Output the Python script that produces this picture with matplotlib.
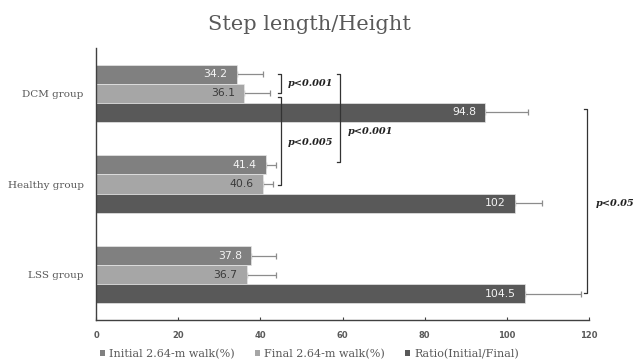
import numpy as np
import matplotlib.pyplot as plt
from matplotlib.patches import Patch

# ------------ data ------------
groups = ["DCM group", "Healthy group", "LSS group"]
initial = [34.2, 41.4, 37.8]
final = [36.1, 40.6, 36.7]
ratio = [94.8, 102, 104.5]
initial_err = [6.5, 2.3, 5.9]
final_err = [6.3, 2.6, 7.2]
ratio_err = [10.3, 6.5, 13.5]
series_names = ["Initial 2.64-m walk(%)", "Final 2.64-m walk(%)", "Ratio(Initial/Final)"]

# ------------ style ------------
colors = ["#808080", "#a6a6a6", "#595959"]
label_colors = ["#f4f4f4", "#3a3a3a", "#f4f4f4"]
serif = "DejaVu Serif"
text_gray = "#595959"

fig = plt.figure(figsize=(6.35, 3.64), dpi=100)
ax = fig.add_axes([0.1512, 0.1209, 0.7764, 0.7472])

ypos = np.arange(len(groups))[::-1]  # DCM on top
h = 0.21
offsets = [h, 0, -h]

for vals, errs, off, col, lcol in zip([initial, final, ratio],
                                       [initial_err, final_err, ratio_err],
                                       offsets, colors, label_colors):
    y = ypos + off
    ax.barh(y, vals, height=h, color=col, edgecolor="#e6e6e6", linewidth=0.5, zorder=2)
    ax.errorbar(vals, y, xerr=[np.zeros(len(vals)), errs], fmt="none",
                ecolor="#8c8c8c", elinewidth=0.9, capsize=2, capthick=0.9, zorder=1)
    for v, yy in zip(vals, y):
        ax.text(v - 2.3, yy, f"{v:g}", ha="right", va="center", color=lcol,
                fontsize=7.8, family="DejaVu Sans", zorder=3)

ax.set_xlim(0, 120)
ax.set_ylim(-0.5, 2.5)
ax.set_xticks(np.arange(0, 121, 20))
ax.set_yticks(ypos)
ax.set_yticklabels(groups, family=serif, fontsize=7.5, color=text_gray)
ax.tick_params(axis="y", length=0, pad=9)
ax.tick_params(axis="x", direction="in", length=2.5, width=0.8, colors="#404040",
               labelsize=6, labelcolor=text_gray, pad=8)
for lab in ax.get_xticklabels():
    lab.set_fontweight("bold")
for side in ["top", "right"]:
    ax.spines[side].set_visible(False)
for side in ["left", "bottom"]:
    ax.spines[side].set_color("#404040")
    ax.spines[side].set_linewidth(1.0)


# significance brackets: vertical line with short stubs pointing left
def bracket(x, y0, y1, label, tx, ty, stub=0.8):
    ax.plot([x - stub, x, x, x - stub], [y0, y0, y1, y1], color="#333333",
            lw=0.9, clip_on=False, zorder=4)
    ax.text(tx, ty, label, ha="left", va="center", family=serif, style="italic",
            fontweight="bold", fontsize=7, color="#222222", clip_on=False)


bracket(45.1, 2.21, 2.0, "p<0.001", 46.6, 2.11)
bracket(45.1, 1.96, 0.99, "p<0.005", 46.6, 1.46)
bracket(59.5, 2.21, 1.24, "p<0.001", 61.2, 1.58)
bracket(119.5, 1.83, -0.20, "p<0.05", 121.7, 0.78)

fig.text(0.487, 0.934, "Step length/Height", ha="center", va="center",
         family=serif, fontsize=15, color=text_gray)

handles = [Patch(facecolor=c, edgecolor="none") for c in colors]
leg = fig.legend(handles, series_names, loc="center", bbox_to_anchor=(0.487, 0.028),
                 ncol=3, frameon=False, handlelength=0.5, handleheight=0.5,
                 handletextpad=0.35, columnspacing=1.8,
                 prop={"family": serif, "size": 8})
for t in leg.get_texts():
    t.set_color(text_gray)

fig.savefig("out.png", dpi=100)
